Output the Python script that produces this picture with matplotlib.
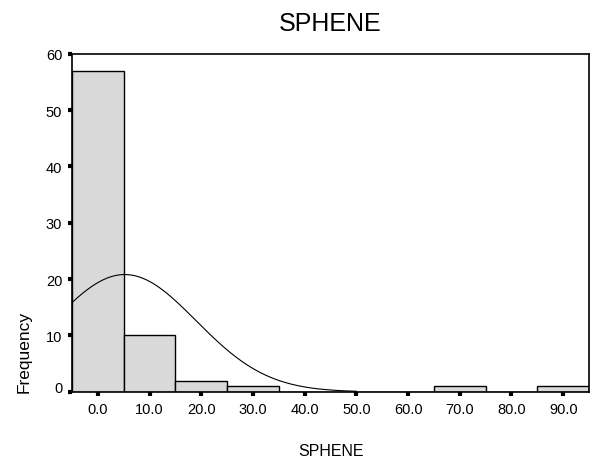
import matplotlib.pyplot as plt
import matplotlib.transforms as mtransforms
import numpy as np

plt.rcParams['font.family'] = ['Liberation Sans', 'DejaVu Sans']

# histogram bins (left edges) and counts
bin_left = [-5, 5, 15, 25, 35, 45, 55, 65, 75, 85]
counts = [57, 10, 2, 1, 0, 0, 0, 1, 0, 1]
bin_width = 10

# normal curve parameters
mean_val = 5.2
sd_val = 13.8
n_total = 72

x_ticks = [0, 10, 20, 30, 40, 50, 60, 70, 80, 90]
x_ticklabels = ['0.0', '10.0', '20.0', '30.0', '40.0', '50.0', '60.0', '70.0', '80.0', '90.0']
y_ticks = [0, 10, 20, 30, 40, 50, 60]

fig = plt.figure(figsize=(5.95, 4.6), dpi=100)
ax = fig.add_axes([0.121, 0.146, 0.869, 0.735])

ax.bar(bin_left, counts, width=bin_width, align='edge', color='#d9d9d9', edgecolor='black', linewidth=1)

xs = np.linspace(-5, 50, 300)
ys = n_total * bin_width / (sd_val * np.sqrt(2 * np.pi)) * np.exp(-(xs - mean_val) ** 2 / (2 * sd_val ** 2))
ax.plot(xs, ys, color='black', linewidth=0.8)

ax.set_xlim(-5, 95)
ax.set_ylim(0, 60)
ax.set_xticks(x_ticks)
ax.set_xticklabels(x_ticklabels)
ax.set_yticks(y_ticks)
ax.tick_params(direction='out', length=3, width=3, labelsize=10.5, colors='black', pad=4)
for s in ax.spines.values():
    s.set_linewidth(1.2)

# the "0" label sits a bit above its tick
lab0 = ax.get_yticklabels()[0]
lab0.set_transform(lab0.get_transform() + mtransforms.ScaledTranslation(0, 5 / 100, fig.dpi_scale_trans))

ax.set_title('SPHENE', fontsize=18, pad=17)
ax.set_xlabel('SPHENE', fontsize=11.5, labelpad=20)
ax.set_ylabel('Frequency', fontsize=12.5, labelpad=10, loc='bottom')

fig.savefig('out.png', dpi=100)
